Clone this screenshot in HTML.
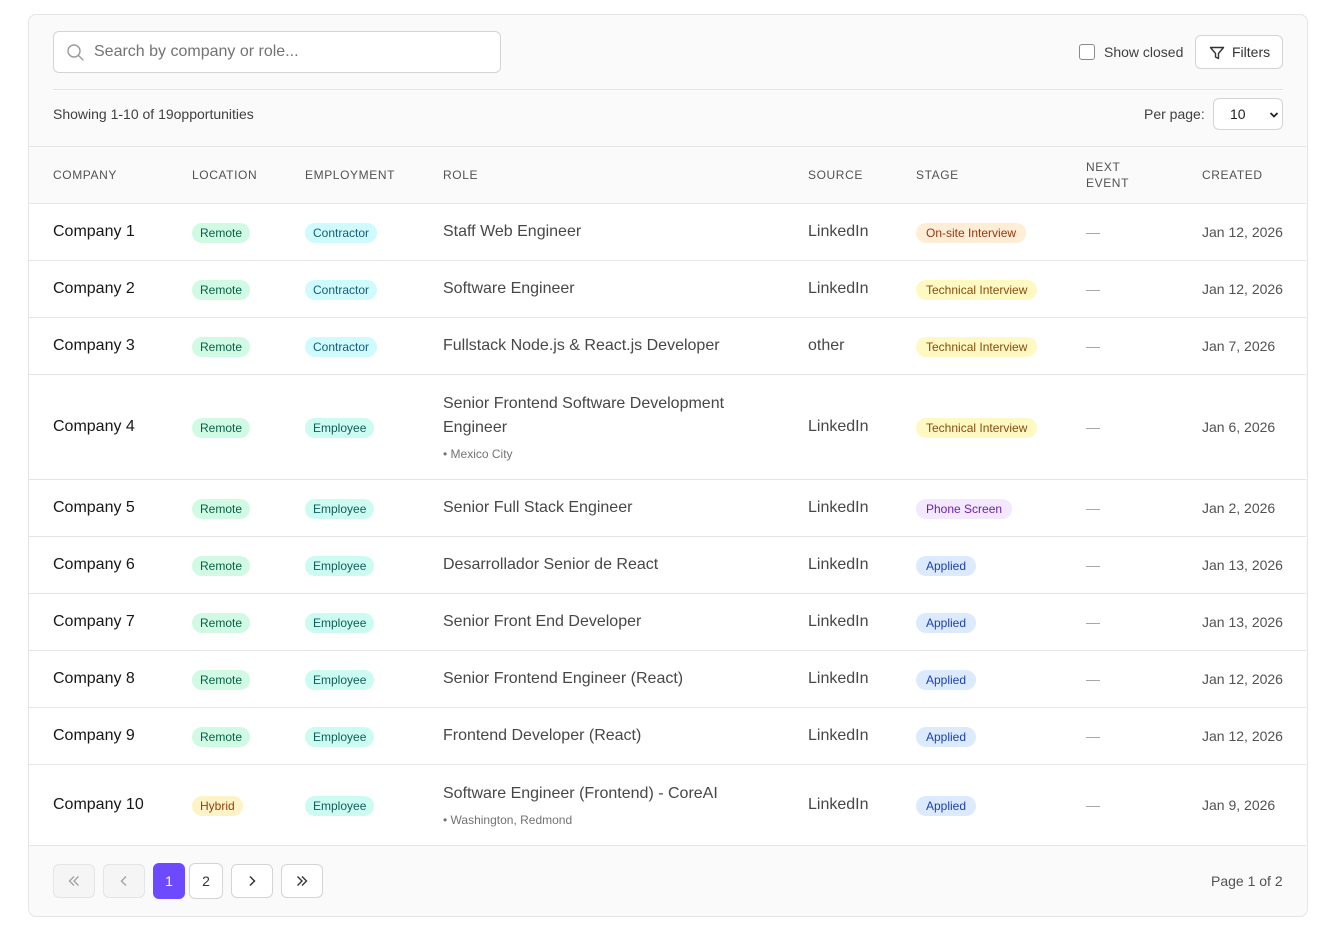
<!DOCTYPE html>
<html>
<head>
<meta charset="utf-8">
<style>
*{box-sizing:border-box;margin:0;padding:0}
html,body{width:1325px;height:934px;background:#fff;overflow:hidden}
body{position:relative;font-family:"Liberation Sans",Arial,sans-serif;color:#171717}
.abs{position:absolute}
.card{left:28px;top:14px;width:1280px;height:903px;border:1px solid #e5e5e5;border-radius:8px;background:#fafafa}
.search{left:53px;top:31px;width:448px;height:42px;border:1px solid #d4d4d4;border-radius:6px;background:#fff}
.search span{position:absolute;left:40px;top:0;line-height:40px;font-size:16px;color:#737373}
.hline{height:1px;background:#e5e5e5}
.cb{left:1079px;top:44px;width:16px;height:16px;border:1px solid #8a8a8a;border-radius:3px;background:#fff}
.t14{font-size:14px;line-height:16px;color:#404040;white-space:nowrap}
.btn{border:1px solid #d4d4d4;border-radius:6px;background:#fff}
.th{top:147px;font-size:12px;letter-spacing:0.6px;color:#525252;line-height:16px;white-space:nowrap}
.row{left:29px;width:1277px;background:#fff;border-bottom:1px solid #e5e5e5}
.cell{position:absolute;top:0;height:100%;display:flex;flex-direction:column;justify-content:center;white-space:nowrap}
.co{left:24px;font-size:16px;color:#171717}
.c2{left:163px}
.c3{left:276px}
.c4{left:414px;font-size:16px;color:#474747;line-height:24px}
.c5{left:779px;font-size:16px;color:#474747}
.c6{left:887px}
.c7{left:1057px;font-size:14px;color:#a3a3a3}
.c8{left:1173px;font-size:14px;color:#525252}
.sub{font-size:12px;color:#737373;line-height:16px;margin-top:6px}
.b{display:inline-block;font-size:12px;line-height:16px;padding:2px 8px;border-radius:10px;align-self:flex-start;margin-top:2px}
.c6 .b{padding:2px 10px}
.rem{background:#d1fae5;color:#065f46}
.con{background:#cffafe;color:#155e75}
.emp{background:#ccfbf1;color:#115e59}
.hyb{background:#fef3c7;color:#92400e}
.ons{background:#ffedd5;color:#9a3412}
.tec{background:#fef9c3;color:#854d0e}
.pho{background:#f3e8ff;color:#6b21a8}
.app{background:#dbeafe;color:#1e40af}
.pb{top:864px;width:42px;height:34px;display:flex;align-items:center;justify-content:center}
.dis{background:#f5f5f5;border:1px solid #e5e5e5;border-radius:6px}
</style>
</head>
<body>
<div class="abs card"></div>

<!-- toolbar -->
<div class="abs search">
  <svg class="abs" style="left:12px;top:11px" width="20" height="20" viewBox="0 0 20 20"><circle cx="8" cy="8" r="6" fill="none" stroke="#9a9a9a" stroke-width="1.4"/><line x1="12.5" y1="12.5" x2="17" y2="17" stroke="#9a9a9a" stroke-width="1.4" stroke-linecap="round"/></svg>
  <span>Search by company or role...</span>
</div>
<div class="abs cb"></div>
<div class="abs t14" style="left:1104px;top:44px">Show closed</div>
<div class="abs btn" style="left:1195px;top:35px;width:88px;height:34px">
  <svg class="abs" style="left:13px;top:9px" width="16" height="16" viewBox="0 0 16 16"><path d="M1.5 2.5 H14.5 L9.5 8.5 V13.5 L6.5 12 V8.5 Z" fill="none" stroke="#333" stroke-width="1.4" stroke-linejoin="round"/></svg>
  <span class="abs t14" style="left:36px;top:8px;color:#333">Filters</span>
</div>
<div class="abs hline" style="left:53px;top:89px;width:1230px"></div>
<div class="abs t14" style="left:53px;top:106px">Showing 1-10 of 19opportunities</div>
<div class="abs t14" style="left:1144px;top:106px">Per page:</div>
<div class="abs btn" style="left:1213px;top:98px;width:70px;height:32px">
  <span class="abs t14" style="left:16px;top:7px;color:#222">10</span>
  <svg class="abs" style="left:55px;top:12px" width="10" height="8" viewBox="0 0 10 8"><polyline points="1.5,2 5,5.5 8.5,2" fill="none" stroke="#222" stroke-width="1.8"/></svg>
</div>

<!-- table header -->
<div class="abs hline" style="left:29px;top:146px;width:1277px"></div>
<div class="abs hline" style="left:29px;top:203px;width:1277px"></div>
<div class="abs th" style="left:53px;top:167px">COMPANY</div>
<div class="abs th" style="left:192px;top:167px">LOCATION</div>
<div class="abs th" style="left:305px;top:167px">EMPLOYMENT</div>
<div class="abs th" style="left:443px;top:167px">ROLE</div>
<div class="abs th" style="left:808px;top:167px">SOURCE</div>
<div class="abs th" style="left:916px;top:167px">STAGE</div>
<div class="abs th" style="left:1086px;top:159px">NEXT</div>
<div class="abs th" style="left:1086px;top:175px">EVENT</div>
<div class="abs th" style="left:1202px;top:167px">CREATED</div>

<!-- rows -->
<div class="abs row" style="top:204px;height:57px">
  <div class="cell co">Company 1</div>
  <div class="cell c2"><span class="b rem">Remote</span></div>
  <div class="cell c3"><span class="b con">Contractor</span></div>
  <div class="cell c4">Staff Web Engineer</div>
  <div class="cell c5">LinkedIn</div>
  <div class="cell c6"><span class="b ons">On-site Interview</span></div>
  <div class="cell c7">—</div>
  <div class="cell c8">Jan 12, 2026</div>
</div>
<div class="abs row" style="top:261px;height:57px">
  <div class="cell co">Company 2</div>
  <div class="cell c2"><span class="b rem">Remote</span></div>
  <div class="cell c3"><span class="b con">Contractor</span></div>
  <div class="cell c4">Software Engineer</div>
  <div class="cell c5">LinkedIn</div>
  <div class="cell c6"><span class="b tec">Technical Interview</span></div>
  <div class="cell c7">—</div>
  <div class="cell c8">Jan 12, 2026</div>
</div>
<div class="abs row" style="top:318px;height:57px">
  <div class="cell co">Company 3</div>
  <div class="cell c2"><span class="b rem">Remote</span></div>
  <div class="cell c3"><span class="b con">Contractor</span></div>
  <div class="cell c4">Fullstack Node.js &amp; React.js Developer</div>
  <div class="cell c5">other</div>
  <div class="cell c6"><span class="b tec">Technical Interview</span></div>
  <div class="cell c7">—</div>
  <div class="cell c8">Jan 7, 2026</div>
</div>
<div class="abs row" style="top:375px;height:105px">
  <div class="cell co">Company 4</div>
  <div class="cell c2"><span class="b rem">Remote</span></div>
  <div class="cell c3"><span class="b emp">Employee</span></div>
  <div class="cell c4"><div>Senior Frontend Software Development<br>Engineer</div><div class="sub">• Mexico City</div></div>
  <div class="cell c5">LinkedIn</div>
  <div class="cell c6"><span class="b tec">Technical Interview</span></div>
  <div class="cell c7">—</div>
  <div class="cell c8">Jan 6, 2026</div>
</div>
<div class="abs row" style="top:480px;height:57px">
  <div class="cell co">Company 5</div>
  <div class="cell c2"><span class="b rem">Remote</span></div>
  <div class="cell c3"><span class="b emp">Employee</span></div>
  <div class="cell c4">Senior Full Stack Engineer</div>
  <div class="cell c5">LinkedIn</div>
  <div class="cell c6"><span class="b pho">Phone Screen</span></div>
  <div class="cell c7">—</div>
  <div class="cell c8">Jan 2, 2026</div>
</div>
<div class="abs row" style="top:537px;height:57px">
  <div class="cell co">Company 6</div>
  <div class="cell c2"><span class="b rem">Remote</span></div>
  <div class="cell c3"><span class="b emp">Employee</span></div>
  <div class="cell c4">Desarrollador Senior de React</div>
  <div class="cell c5">LinkedIn</div>
  <div class="cell c6"><span class="b app">Applied</span></div>
  <div class="cell c7">—</div>
  <div class="cell c8">Jan 13, 2026</div>
</div>
<div class="abs row" style="top:594px;height:57px">
  <div class="cell co">Company 7</div>
  <div class="cell c2"><span class="b rem">Remote</span></div>
  <div class="cell c3"><span class="b emp">Employee</span></div>
  <div class="cell c4">Senior Front End Developer</div>
  <div class="cell c5">LinkedIn</div>
  <div class="cell c6"><span class="b app">Applied</span></div>
  <div class="cell c7">—</div>
  <div class="cell c8">Jan 13, 2026</div>
</div>
<div class="abs row" style="top:651px;height:57px">
  <div class="cell co">Company 8</div>
  <div class="cell c2"><span class="b rem">Remote</span></div>
  <div class="cell c3"><span class="b emp">Employee</span></div>
  <div class="cell c4">Senior Frontend Engineer (React)</div>
  <div class="cell c5">LinkedIn</div>
  <div class="cell c6"><span class="b app">Applied</span></div>
  <div class="cell c7">—</div>
  <div class="cell c8">Jan 12, 2026</div>
</div>
<div class="abs row" style="top:708px;height:57px">
  <div class="cell co">Company 9</div>
  <div class="cell c2"><span class="b rem">Remote</span></div>
  <div class="cell c3"><span class="b emp">Employee</span></div>
  <div class="cell c4">Frontend Developer (React)</div>
  <div class="cell c5">LinkedIn</div>
  <div class="cell c6"><span class="b app">Applied</span></div>
  <div class="cell c7">—</div>
  <div class="cell c8">Jan 12, 2026</div>
</div>
<div class="abs row" style="top:765px;height:81px">
  <div class="cell co">Company 10</div>
  <div class="cell c2"><span class="b hyb">Hybrid</span></div>
  <div class="cell c3"><span class="b emp">Employee</span></div>
  <div class="cell c4"><div>Software Engineer (Frontend) - CoreAI</div><div class="sub">• Washington, Redmond</div></div>
  <div class="cell c5">LinkedIn</div>
  <div class="cell c6"><span class="b app">Applied</span></div>
  <div class="cell c7">—</div>
  <div class="cell c8">Jan 9, 2026</div>
</div>

<!-- footer pagination -->
<div class="abs pb dis" style="left:53px">
  <svg width="18" height="18" viewBox="0 0 18 18"><polyline points="9,4.5 4.5,9 9,13.5" fill="none" stroke="#a3a3a3" stroke-width="1.4"/><polyline points="13.5,4.5 9,9 13.5,13.5" fill="none" stroke="#a3a3a3" stroke-width="1.4"/></svg>
</div>
<div class="abs pb dis" style="left:103px">
  <svg width="18" height="18" viewBox="0 0 18 18"><polyline points="11,4.5 6.5,9 11,13.5" fill="none" stroke="#a3a3a3" stroke-width="1.4"/></svg>
</div>
<div class="abs" style="left:153px;top:863px;width:32px;height:36px;background:#6d4aff;border-radius:6px;color:#fff;font-size:14px;line-height:36px;text-align:center">1</div>
<div class="abs btn" style="left:189px;top:863px;width:34px;height:36px;font-size:14px;line-height:34px;text-align:center;color:#333">2</div>
<div class="abs pb btn" style="left:231px">
  <svg width="18" height="18" viewBox="0 0 18 18"><polyline points="7,4.5 11.5,9 7,13.5" fill="none" stroke="#333" stroke-width="1.5"/></svg>
</div>
<div class="abs pb btn" style="left:281px">
  <svg width="18" height="18" viewBox="0 0 18 18"><polyline points="4.5,4.5 9,9 4.5,13.5" fill="none" stroke="#333" stroke-width="1.4"/><polyline points="9,4.5 13.5,9 9,13.5" fill="none" stroke="#333" stroke-width="1.4"/></svg>
</div>
<div class="abs t14" style="left:1211px;top:873px;color:#525252">Page 1 of 2</div>
</body>
</html>
